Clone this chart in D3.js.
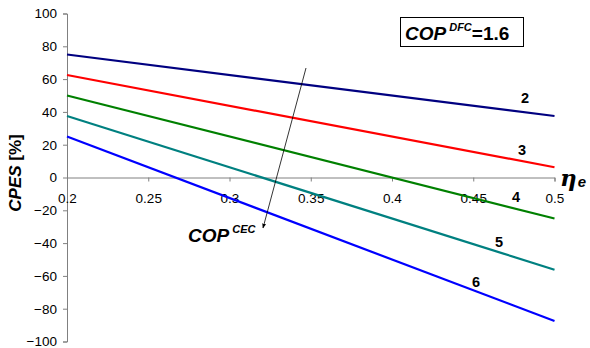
<!DOCTYPE html>
<html><head><meta charset="utf-8">
<script src="https://cdn.jsdelivr.net/npm/d3@7"></script>
<style>body{margin:0;background:#fff}svg{display:block;font-family:"Liberation Sans",Arial,sans-serif}</style>
</head><body><svg id="c" width="590" height="348"></svg>
<script>
const etaValues = [0.2, 0.5];
const seriesNames = ["2", "3", "4", "5", "6"];
const series2 = [75, 37.5];
const series3 = [62.5, 6.25];
const series4 = [50, -25];
const series5 = [37.5, -56.25];
const series6 = [25, -87.5];
const xTicks = [0.2, 0.25, 0.3, 0.35, 0.4, 0.45, 0.5];
const yTicks = [-100, -80, -60, -40, -20, 0, 20, 40, 60, 80, 100];
const colors = ["#000080", "#ff0000", "#008000", "#008080", "#0000ff"];
const allSeries = [series2, series3, series4, series5, series6];

const svg = d3.select("#c");
const x = d3.scaleLinear().domain([0.2, 0.5]).range([67, 554.5]);
const y = d3.scaleLinear().domain([-100, 100]).range([341.5, 13.5]);

// y axis
const ya = svg.append("g").attr("transform", "translate(67,0)")
  .call(d3.axisLeft(y).tickValues(yTicks).tickSize(4).tickPadding(6).tickFormat(d3.format("d")));
ya.select(".domain").attr("stroke", "#808080");
ya.selectAll(".tick line").attr("stroke", "#808080");
ya.selectAll("text").attr("font-size", 13.5).attr("fill", "#000").attr("font-family", "Liberation Sans, Arial");

// x axis at y=0
const xa = svg.append("g").attr("transform", `translate(0,${y(0)})`)
  .call(d3.axisBottom(x).tickValues(xTicks).tickSize(4).tickPadding(12).tickFormat(d => String(d)));
xa.select(".domain").attr("stroke", "#808080");
xa.selectAll(".tick line").attr("stroke", "#808080");
xa.selectAll("text").attr("font-size", 13.5).attr("fill", "#000").attr("font-family", "Liberation Sans, Arial");

// lines
const line = d3.line().x((d, i) => x(etaValues[i])).y(d => y(d));
allSeries.forEach((s, k) => {
  svg.append("path").datum(s).attr("d", line).attr("fill", "none")
    .attr("stroke", colors[k]).attr("stroke-width", 2.2);
});

// series labels
const labelOffsets = [[525, 103], [522, 155], [516, 202], [499, 247], [476, 287]];
seriesNames.forEach((n, k) => {
  svg.append("text").attr("x", labelOffsets[k][0]).attr("y", labelOffsets[k][1])
    .attr("text-anchor", "middle").attr("font-size", 14.5).attr("font-weight", "bold").text(n);
});

// arrow
svg.append("defs").append("marker").attr("id", "ah").attr("viewBox", "0 0 10 10")
  .attr("refX", 9).attr("refY", 5).attr("markerWidth", 6).attr("markerHeight", 6)
  .attr("orient", "auto").append("path").attr("d", "M0,1 L10,5 L0,9 z").attr("fill", "#000");
svg.append("line").attr("x1", 306).attr("y1", 68).attr("x2", 263).attr("y2", 228)
  .attr("stroke", "#000").attr("stroke-width", 0.8).attr("marker-end", "url(#ah)");

// COP CEC label
const t1 = svg.append("text").attr("x", 188).attr("y", 242).attr("font-weight", "bold").attr("font-style", "italic");
t1.append("tspan").attr("font-size", 19).text("COP");
t1.append("tspan").attr("font-size", 11).attr("dx", 3).attr("dy", -9).text("CEC");

// legend box
svg.append("rect").attr("x", 400.5).attr("y", 17.5).attr("width", 123).attr("height", 29)
  .attr("fill", "#fff").attr("stroke", "#000").attr("stroke-width", 1);
const t2 = svg.append("text").attr("x", 405).attr("y", 40).attr("font-weight", "bold");
t2.append("tspan").attr("font-size", 19).attr("font-style", "italic").text("COP");
t2.append("tspan").attr("font-size", 11).attr("font-style", "italic").attr("dx", 3).attr("dy", -9).text("DFC");
t2.append("tspan").attr("font-size", 19).attr("dy", 9).text("=1.6");

// x axis label eta_e
const t3 = svg.append("text").attr("x", 560).attr("y", 186).attr("font-weight", "bold").attr("font-style", "italic");
t3.append("tspan").attr("font-size", 23).attr("font-family", "DejaVu Serif, serif").text("η");
t3.append("tspan").attr("font-size", 15).attr("dx", 1).attr("dy", 1).text("e");

// y axis label
const t4 = svg.append("text").attr("transform", "translate(21,173) rotate(-90)")
  .attr("text-anchor", "middle").attr("font-weight", "bold").attr("font-size", 17);
t4.append("tspan").attr("font-style", "italic").text("CPES");
t4.append("tspan").text(" [%]");
</script></body></html>
